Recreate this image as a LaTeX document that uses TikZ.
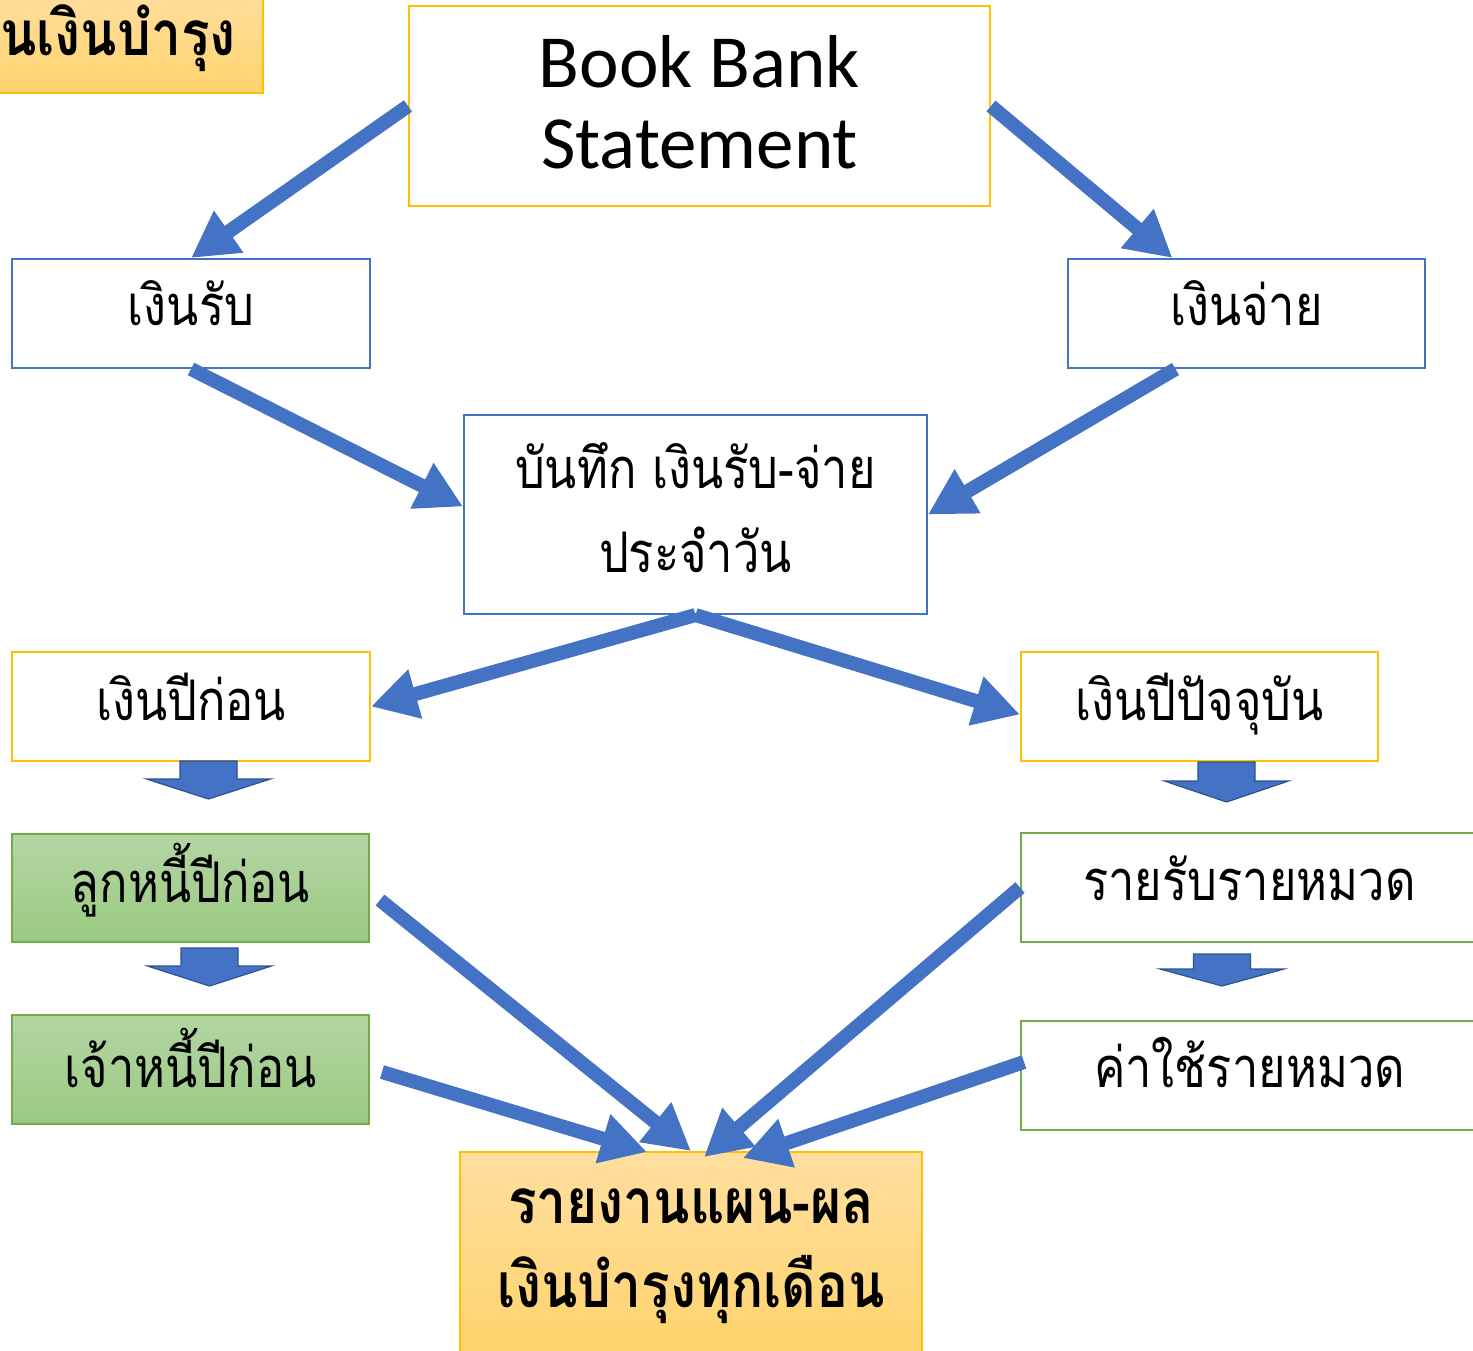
\documentclass[tikz,border=0pt]{standalone}
\usepackage{fontspec}
\setmainfont{Carlito}
\newfontfamily\thai[Script=Thai, FakeStretch=0.84, BoldFeatures={FakeStretch=0.86}]{Loma}
\usetikzlibrary{arrows.meta,calc}
\definecolor{ablue}{HTML}{4472C4}
\definecolor{adark}{HTML}{2F528F}
\definecolor{ayellow}{HTML}{FFC000}
\definecolor{agreen}{HTML}{70AD47}
\definecolor{orTop}{HTML}{FFDFA0}
\definecolor{orBot}{HTML}{FFD36C}
\definecolor{grTop}{HTML}{B4D5A4}
\definecolor{grBot}{HTML}{9ACA82}
\begin{document}
\begin{tikzpicture}[x=0.5pt,y=-0.5pt,
 box/.style={rectangle, line width=1pt, fill=white, align=center, inner sep=0pt, text depth=5pt, font=\thai\fontsize{28}{42}\selectfont},
 bluebox/.style={box, draw=ablue},
 yelbox/.style={box, draw=ayellow},
 grnbox/.style={box, draw=agreen},
 grnfill/.style={box, draw=agreen, top color=grTop, bottom color=grBot},
 orfill/.style={box, draw=ayellow, top color=orTop, bottom color=orBot, font=\thai\bfseries\fontsize{31}{42}\selectfont},
 flow/.style={draw=ablue, line width=7pt, -{Triangle[length=23pt,width=24pt]}},
 blockarrow/.style={fill=ablue, draw=adark, line width=0.6pt, line join=miter},
 pics/dnarrow/.style args={#1/#2}{code={\path[blockarrow] (-28.5,0) -- (28.5,0) -- (28.5,#1) -- (62,#1) -- (0,#1+#2) -- (-62,#1) -- (-28.5,#1) -- cycle;}}
]
\useasboundingbox (0,0) rectangle (1473,1350);
\clip (0,0) rectangle (1473,1350);

% title (cut at the page edge)
\node[orfill, minimum width=181.5pt, minimum height=51.5pt] (titlebg) at (81.5,41.5) {};
\node[font=\thai\bfseries\fontsize{31}{42}\selectfont, anchor=base east, inner sep=0pt] (title) at (236,55) {แผนเงินบำรุง};

% boxes
\node[yelbox, font=\fontsize{37.5}{40.5}\selectfont, text height=67pt, minimum width=290.5pt, minimum height=100pt] (book) at (699.5,106) {Book Bank\\Statement};
\node[bluebox, text height=16.5pt, minimum width=179pt, minimum height=54.5pt] (rcv) at (191,313.5) {เงินรับ};
\node[bluebox, text height=16.5pt, minimum width=178.5pt, minimum height=54.5pt] (pay) at (1246.5,313.5) {เงินจ่าย};
\node[bluebox, text height=62.5pt, minimum width=231.5pt, minimum height=99.5pt] (rec) at (695.5,514.5) {บันทึก เงินรับ-จ่าย\\ประจำวัน};
\node[yelbox, text height=18.5pt, minimum width=179pt, minimum height=54.5pt] (prv) at (191,706.5) {เงินปีก่อน};
\node[yelbox, text height=18.5pt, minimum width=178.5pt, minimum height=54.5pt] (cur) at (1199.5,706.5) {เงินปีปัจจุบัน};
\node[grnfill, text height=19pt, minimum width=178.5pt, minimum height=54pt] (deb) at (190.5,888) {ลูกหนี้ปีก่อน};
\node[grnfill, text height=22.5pt, minimum width=178.5pt, minimum height=54.5pt] (cred) at (190.5,1069.5) {เจ้าหนี้ปีก่อน};
\node[grnbox, text height=17.5pt, minimum width=228.5pt, minimum height=54.5pt] (inc) at (1249.5,887.5) {รายรับรายหมวด};
\node[grnbox, text height=16.5pt, minimum width=228.5pt, minimum height=54.5pt] (exp) at (1249.5,1075.5) {ค่าใช้รายหมวด};
\node[orfill, text height=60pt, minimum width=231pt, minimum height=100pt] (fin) at (691,1252) {รายงานแผน-ผล\\เงินบำรุงทุกเดือน};

% block arrows
\pic at (208.5,761) {dnarrow=18/20};
\pic at (1226.5,762) {dnarrow=19/21};
\pic at (209.5,948) {dnarrow=18/20};
\pic at (1222,954) {dnarrow=15/17};

% connectors
\draw[flow] (book.west) -- (rcv.north);
\draw[flow] (book.east) -- ([xshift=-37pt]pay.north);
\draw[flow] (rcv.south) -- ([yshift=4pt]rec.west);
\draw[flow] ([xshift=-35.5pt]pay.south) -- (rec.east);
\draw[flow] (rec.south) -- (prv.east);
\draw[flow] (rec.south) -- ([yshift=-4pt]cur.west);
\draw[flow] ([xshift=5pt,yshift=-6pt]deb.east) -- (fin.north);
\draw[flow] ([xshift=6pt,yshift=-1.25pt]cred.east) -- ([xshift=-22pt,yshift=-0.5pt]fin.north);
\draw[flow] (inc.west) -- ([xshift=6.5pt,yshift=-3pt]fin.north);
\draw[flow] ([xshift=2pt,yshift=6.75pt]exp.west) -- ([xshift=26pt,yshift=-3.5pt]fin.north);
\end{tikzpicture}
\end{document}
